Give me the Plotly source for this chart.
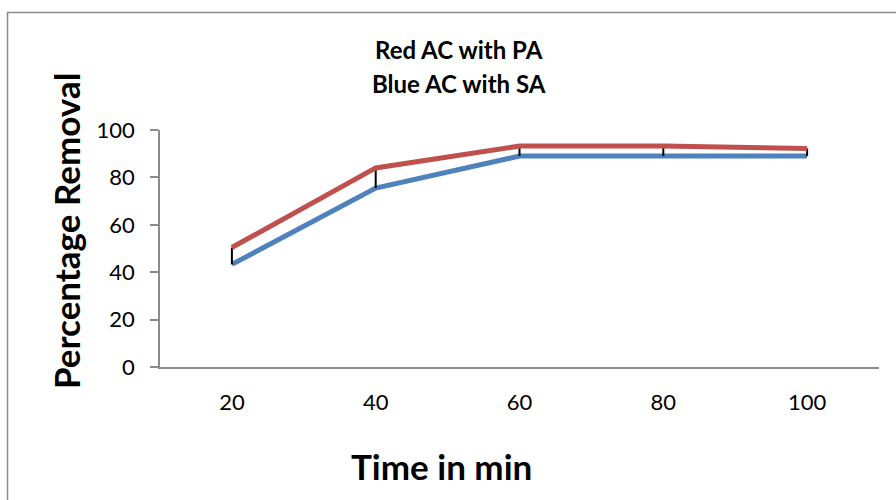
import plotly.graph_objects as go

# Contact time (min) and percentage removal for the two adsorbents
times = ["20", "40", "60", "80", "100"]
removal_pa = [50.4, 84.0, 93.2, 93.2, 92.2]   # red: AC with PA
removal_sa = [43.3, 75.5, 89.0, 89.0, 89.0]   # blue: AC with SA
pa_err_minus = [7.1, 8.5, 4.2, 4.2, 3.2]
y_ticks = [0, 20, 40, 60, 80, 100]

FONT = "Lato, Carlito, Calibri, 'Open Sans', sans-serif"
W, H = 896, 500
L, R, T, B = 160, 17, 130, 133
pw, ph = W - L - R, H - T - B


def px_x(x):
    return (x - L) / pw


def px_y(y):
    return (H - B - y) / ph


fig = go.Figure()

fig.add_trace(go.Scatter(
    x=times, y=removal_sa, mode="lines",
    line=dict(color="#4F81BD", width=5),
    showlegend=False,
))
fig.add_trace(go.Scatter(
    x=times, y=removal_pa, mode="lines",
    line=dict(color="#C0504D", width=5),
    error_y=dict(type="data", symmetric=False,
                 array=[0] * len(pa_err_minus), arrayminus=pa_err_minus,
                 color="black", thickness=2, width=0),
    showlegend=False,
))

fig.update_layout(
    width=W, height=H,
    margin=dict(l=L, r=R, t=T, b=B),
    paper_bgcolor="white", plot_bgcolor="white",
    font=dict(family=FONT, color="black", size=22),
    xaxis=dict(
        type="category", range=[-0.5, 4.5],
        showline=True, linecolor="#8C8C8C", linewidth=1.5,
        showgrid=False, zeroline=False, ticks="",
        tickfont=dict(size=22), ticklabelstandoff=15,
    ),
    yaxis=dict(
        range=[0, 100], tickvals=y_ticks,
        showline=True, linecolor="#8C8C8C", linewidth=1.5,
        showgrid=False, zeroline=False,
        ticks="outside", ticklen=8, tickcolor="#8C8C8C", tickwidth=1.5,
        tickfont=dict(size=22), ticklabelstandoff=11,
    ),
    shapes=[dict(
        type="rect", xref="paper", yref="paper",
        x0=px_x(7.5), x1=px_x(905), y0=px_y(510), y1=px_y(12.5),
        line=dict(color="#8C8C8C", width=1.5), fillcolor="rgba(0,0,0,0)",
        layer="below",
    )],
    annotations=[
        dict(text="<b>Red AC with PA</b>", xref="paper", yref="paper",
             x=px_x(459), y=px_y(50), showarrow=False,
             font=dict(size=24), xanchor="center", yanchor="middle"),
        dict(text="<b>Blue AC with SA</b>", xref="paper", yref="paper",
             x=px_x(459), y=px_y(83), showarrow=False,
             font=dict(size=24), xanchor="center", yanchor="middle"),
        dict(text="<b>Percentage Removal</b>", xref="paper", yref="paper",
             x=px_x(66), y=px_y(231), showarrow=False, textangle=-90,
             font=dict(size=35), xanchor="center", yanchor="middle"),
        dict(text="<b>Time in min</b>", xref="paper", yref="paper",
             x=px_x(441), y=px_y(466), showarrow=False,
             font=dict(size=35), xanchor="center", yanchor="middle"),
    ],
)

fig.write_html("out.html")
